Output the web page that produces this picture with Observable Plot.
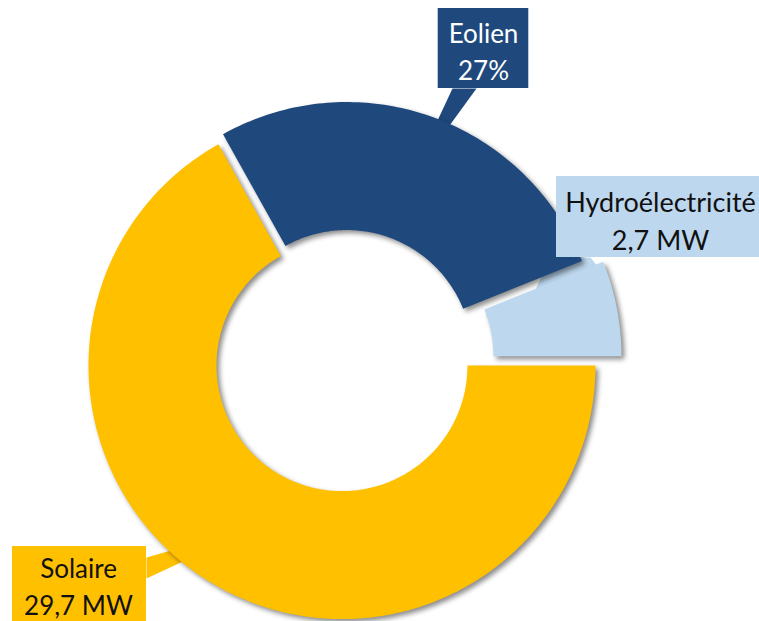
<!DOCTYPE html>
<html>
<head>
<meta charset="utf-8">
<script src="https://cdn.jsdelivr.net/npm/d3@7"></script>
<script src="https://cdn.jsdelivr.net/npm/@observablehq/plot@0.6"></script>
<style>
  html, body { margin: 0; padding: 0; background: #fff; }
  #chart { width: 759px; height: 621px; overflow: hidden; }
  g[aria-description="slice"] path { filter: drop-shadow(3px 3px 2.5px rgba(0,0,0,0.45)); }
</style>
</head>
<body>
<div id="chart"></div>
<script>
// ---- Data ----
const categories = ["Solaire", "Eolien", "Hydroélectricité"];
const valuesMW = [29.7, 12.0, 2.7];
const labelValues = ["29,7 MW", "27%", "2,7 MW"];

// ---- Style / layout ----
const colors = ["#FFC000", "#1F497D", "#BDD7EE"];
const textColors = ["#111111", "#ffffff", "#111111"];
const fontSizes = [26, 26, 27];
const explode = [0.022, 0.022, 0.093];      // in outer-radius units
const innerRatio = 0.495;
const W = 759, H = 621;
const center = {px: 344.3, py: 360.3, R: 253.5};   // layout of the donut in the frame
const toX = px => (px - center.px) / center.R;
const toY = py => (center.py - py) / center.R;

// label boxes (layout, pixels in the frame)
const labelLayout = [
  {box: [12, 546, 146, 626], text: [78, 584], pointer: [[146, 557], [146, 578], [262, 524]]},
  {box: [437.7, 8, 528.3, 88], text: [483, 49], pointer: [[452, 88], [476, 88], [409, 180]]},
  {box: [556, 176, 759, 257], text: [660, 218], pointer: [[550, 257], [590, 257], [609, 281], [600, 305], [530, 300]]}
];

// ---- Geometry from data ----
const pie = d3.pie().sort(null).startAngle(Math.PI / 2).endAngle(Math.PI / 2 + 2 * Math.PI);
const arcs = pie(valuesMW);
const slicePts = arcs.map((a, i) => {
  const m = (a.startAngle + a.endAngle) / 2;
  const ox = explode[i] * Math.sin(m), oy = explode[i] * Math.cos(m);
  const n = Math.max(8, Math.ceil((a.endAngle - a.startAngle) / (Math.PI / 180)));
  const pts = [];
  for (let k = 0; k <= n; k++) {
    const t = a.startAngle + (a.endAngle - a.startAngle) * k / n;
    pts.push({x: ox + Math.sin(t), y: oy + Math.cos(t)});
  }
  for (let k = n; k >= 0; k--) {
    const t = a.startAngle + (a.endAngle - a.startAngle) * k / n;
    pts.push({x: ox + innerRatio * Math.sin(t), y: oy + innerRatio * Math.cos(t)});
  }
  return pts;
});

const boxes = categories.map((c, i) => {
  const L = labelLayout[i];
  return {
    cat: c,
    x1: toX(L.box[0]), x2: toX(L.box[2]), y1: toY(L.box[3]), y2: toY(L.box[1]),
    tx: toX(L.text[0]), ty: toY(L.text[1]),
    label: c + "\n" + labelValues[i],
    fill: colors[i], color: textColors[i], size: fontSizes[i]
  };
});
const pointers = labelLayout.map(L => L.pointer.map(([px, py]) => ({x: toX(px), y: toY(py)})));

const marks = [];
pointers.forEach((p, i) => marks.push(Plot.line(p, {x: "x", y: "y", fill: colors[i], stroke: "none", curve: "linear-closed"})));
slicePts.forEach((p, i) => marks.push(Plot.line(p, {x: "x", y: "y", fill: colors[i], stroke: "none", curve: "linear-closed", ariaDescription: "slice"})));
boxes.forEach(b => {
  marks.push(Plot.rect([b], {x1: "x1", x2: "x2", y1: "y1", y2: "y2", fill: b.fill, stroke: "none"}));
  marks.push(Plot.text([b], {x: "tx", y: "ty", text: "label", fill: b.color, fontSize: b.size, lineHeight: 1.44,
    fontFamily: "Lato", textAnchor: "middle"}));
});

const chart = Plot.plot({
  width: W, height: H,
  margin: 0,
  x: {domain: [toX(0), toX(W)], axis: null},
  y: {domain: [toY(H), toY(0)], axis: null},
  style: {background: "#fff", overflow: "hidden"},
  marks
});
document.getElementById("chart").appendChild(chart);
</script>
</body>
</html>
